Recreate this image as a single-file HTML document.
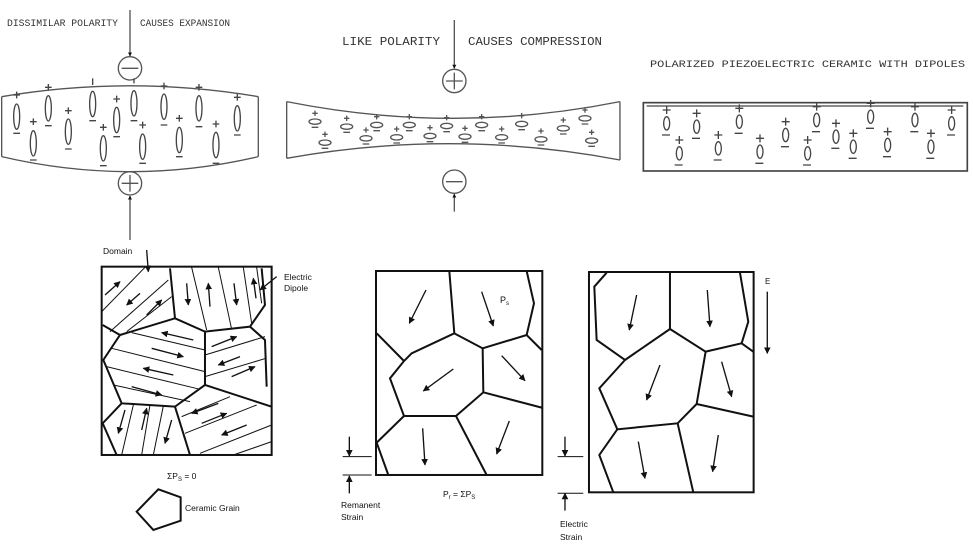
<!DOCTYPE html>
<html><head><meta charset="utf-8"><style>
html,body{margin:0;padding:0;background:#fff;}
svg{display:block;}
text{font-family:"Liberation Mono",monospace;fill:#333;}
.s{font-family:"Liberation Sans",sans-serif;fill:#111;}
</style></head><body>
<svg width="973" height="549" viewBox="0 0 973 549" xmlns="http://www.w3.org/2000/svg">
<defs>
<marker id="a" viewBox="0 0 10 10" refX="9" refY="5" markerWidth="5" markerHeight="5" orient="auto"><path d="M0,0L10,5L0,10z" fill="#111"/></marker>
<marker id="b" viewBox="0 0 10 10" refX="9" refY="5" markerWidth="3" markerHeight="3" orient="auto"><path d="M0,0L10,5L0,10z" fill="#111"/></marker>
</defs>

<!-- Top left: expansion -->
<g transform="scale(0.3333)" fill="none" stroke="#555" stroke-width="4">
<path d="M5,290 Q390,225 775,290"/>
<path d="M5,470 Q390,560 775,470"/>
<line x1="5" y1="290" x2="5" y2="470"/><line x1="775" y1="290" x2="775" y2="470"/>
<circle cx="390" cy="205" r="35"/><line x1="365" y1="205" x2="415" y2="205"/>
<circle cx="390" cy="550" r="35"/><line x1="390" y1="525" x2="390" y2="575"/><line x1="365" y1="550" x2="415" y2="550"/>
<line x1="390" y1="30" x2="390" y2="168" marker-end="url(#b)"/>
<line x1="390" y1="720" x2="390" y2="588" marker-end="url(#b)"/>
</g>
<g fill="none" stroke="#444" stroke-width="1.2">
<g transform="scale(0.3333)" stroke-width="4">
<ellipse cx="50" cy="350" rx="9" ry="38"/><ellipse cx="100" cy="430" rx="9" ry="38"/><ellipse cx="145" cy="325" rx="9" ry="38"/><ellipse cx="205" cy="395" rx="9" ry="38"/><ellipse cx="278" cy="312" rx="9" ry="38"/><ellipse cx="310" cy="445" rx="9" ry="38"/><ellipse cx="350" cy="360" rx="9" ry="38"/><ellipse cx="402" cy="310" rx="9" ry="38"/><ellipse cx="428" cy="440" rx="9" ry="38"/><ellipse cx="492" cy="320" rx="9" ry="38"/><ellipse cx="538" cy="420" rx="9" ry="38"/><ellipse cx="597" cy="325" rx="9" ry="38"/><ellipse cx="648" cy="435" rx="9" ry="38"/><ellipse cx="712" cy="355" rx="9" ry="38"/>
<path d="M40,285h20M50,275v20 M90,365h20M100,355v20 M135,262h20M145,252v20 M195,332h20M205,322v20 M278,235v20 M300,382h20M310,372v20 M340,297h20M350,287v20 M402,235v15 M418,375h20M428,365v20 M482,258h20M492,248v20 M528,355h20M538,345v20 M587,262h20M597,252v20 M638,372h20M648,362v20 M702,292h20M712,282v20"/>
<path d="M40,400h20 M90,480h20 M135,377h20 M195,447h20 M268,362h20 M300,497h20 M340,410h20 M392,362h20 M418,490h20 M482,375h20 M528,470h20 M587,380h20 M638,490h20 M702,405h20"/>
</g>
</g>
<text x="7" y="26" font-size="9.7" textLength="111" lengthAdjust="spacingAndGlyphs">DISSIMILAR POLARITY</text>
<text x="140" y="26" font-size="9.7" textLength="90" lengthAdjust="spacingAndGlyphs">CAUSES EXPANSION</text>

<!-- Top middle: compression -->
<g transform="translate(280,20) scale(0.3333)" fill="none" stroke="#555" stroke-width="4">
<path d="M20,245 Q520,345 1020,245"/>
<path d="M20,415 Q520,325 1020,420"/>
<line x1="20" y1="245" x2="20" y2="415"/><line x1="1020" y1="245" x2="1020" y2="420"/>
<circle cx="523" cy="183" r="35"/><line x1="498" y1="183" x2="548" y2="183"/><line x1="523" y1="158" x2="523" y2="208"/>
<circle cx="523" cy="485" r="35"/><line x1="498" y1="485" x2="548" y2="485"/>
<line x1="523" y1="0" x2="523" y2="145" marker-end="url(#b)"/>
<line x1="523" y1="575" x2="523" y2="522" marker-end="url(#b)"/>
<g stroke-width="4">
<ellipse cx="105" cy="305" rx="18" ry="8"/><ellipse cx="135" cy="368" rx="18" ry="8"/><ellipse cx="200" cy="320" rx="18" ry="8"/><ellipse cx="258" cy="355" rx="18" ry="8"/><ellipse cx="290" cy="315" rx="18" ry="8"/><ellipse cx="350" cy="352" rx="18" ry="8"/><ellipse cx="388" cy="315" rx="18" ry="8"/><ellipse cx="450" cy="348" rx="18" ry="8"/><ellipse cx="500" cy="318" rx="18" ry="8"/><ellipse cx="555" cy="350" rx="18" ry="8"/><ellipse cx="605" cy="315" rx="18" ry="8"/><ellipse cx="665" cy="352" rx="18" ry="8"/><ellipse cx="725" cy="312" rx="18" ry="8"/><ellipse cx="783" cy="358" rx="18" ry="8"/><ellipse cx="850" cy="325" rx="18" ry="8"/><ellipse cx="915" cy="295" rx="18" ry="8"/><ellipse cx="935" cy="362" rx="18" ry="8"/>
<path d="M97,280h16M105,272v16 M127,343h16M135,335v16 M192,295h16M200,287v16 M250,330h16M258,322v16 M282,290h16M290,282v16 M342,327h16M350,319v16 M380,290h16M388,282v16 M442,323h16M450,315v16 M492,293h16M500,285v16 M547,325h16M555,317v16 M597,290h16M605,282v16 M657,327h16M665,319v16 M717,287h16M725,279v16 M775,333h16M783,325v16 M842,300h16M850,292v16 M907,270h16M915,262v16 M927,337h16M935,329v16"/>
<path d="M95,322h20 M125,385h20 M190,337h20 M248,372h20 M280,332h20 M340,369h20 M378,332h20 M440,365h20 M490,335h20 M545,367h20 M595,332h20 M655,369h20 M715,329h20 M773,375h20 M840,342h20 M905,312h20 M925,379h20"/>
</g>
</g>
<text x="342" y="45" font-size="11.5" textLength="98" lengthAdjust="spacingAndGlyphs">LIKE POLARITY</text>
<text x="468" y="45" font-size="11.5" textLength="134" lengthAdjust="spacingAndGlyphs">CAUSES COMPRESSION</text>

<!-- Top right: polarized -->
<text x="650" y="67" font-size="10.5" textLength="315" lengthAdjust="spacingAndGlyphs">POLARIZED PIEZOELECTRIC CERAMIC WITH DIPOLES</text>
<g transform="translate(640,50) scale(0.3333)" fill="none" stroke="#444" stroke-width="4">
<rect x="10" y="158" width="972" height="205" stroke-width="5"/>
<line x1="20" y1="168" x2="970" y2="168"/>
<ellipse cx="80" cy="220" rx="9" ry="20"/><ellipse cx="118" cy="310" rx="9" ry="20"/><ellipse cx="170" cy="230" rx="9" ry="20"/><ellipse cx="235" cy="295" rx="9" ry="20"/><ellipse cx="298" cy="215" rx="9" ry="20"/><ellipse cx="360" cy="305" rx="9" ry="20"/><ellipse cx="437" cy="255" rx="9" ry="20"/><ellipse cx="503" cy="310" rx="9" ry="20"/><ellipse cx="530" cy="210" rx="9" ry="20"/><ellipse cx="588" cy="260" rx="9" ry="20"/><ellipse cx="640" cy="290" rx="9" ry="20"/><ellipse cx="692" cy="200" rx="9" ry="20"/><ellipse cx="743" cy="285" rx="9" ry="20"/><ellipse cx="825" cy="210" rx="9" ry="20"/><ellipse cx="873" cy="290" rx="9" ry="20"/><ellipse cx="935" cy="220" rx="9" ry="20"/>
<path d="M68,180h24M80,168v24 M106,270h24M118,258v24 M158,190h24M170,178v24 M223,255h24M235,243v24 M286,175h24M298,163v24 M348,265h24M360,253v24 M425,215h24M437,203v24 M491,270h24M503,258v24 M518,170h24M530,158v24 M576,220h24M588,208v24 M628,250h24M640,238v24 M680,160h24M692,150v22 M731,245h24M743,233v24 M813,170h24M825,158v24 M861,250h24M873,238v24 M923,180h24M935,168v24"/>
<path d="M66,255h24 M104,345h24 M156,265h24 M221,330h24 M284,250h24 M346,340h24 M423,290h24 M489,345h24 M516,245h24 M574,295h24 M626,325h24 M678,235h24 M729,320h24 M811,245h24 M859,325h24 M921,255h24"/>
</g>

<!-- Bottom left box -->
<g transform="translate(90,240) scale(0.3333)" fill="none" stroke="#111">
<rect x="35" y="80" width="510" height="565" stroke-width="6"/>
<g stroke-width="6">
<polyline points="240,85 255,235 90,285 38,255"/>
<polyline points="255,235 345,275 480,260 525,195 515,85"/>
<polyline points="90,285 40,360 95,490 255,500 345,435 345,275"/>
<polyline points="345,435 545,500"/>
<polyline points="480,260 525,300 530,440"/>
<polyline points="95,490 38,550 80,645"/>
<polyline points="255,500 300,645"/>
</g>
<g stroke-width="3">
<line x1="35" y1="215" x2="165" y2="82"/><line x1="60" y1="275" x2="235" y2="120"/><line x1="110" y1="275" x2="245" y2="170"/>
<line x1="305" y1="82" x2="350" y2="270"/><line x1="385" y1="82" x2="425" y2="268"/><line x1="460" y1="82" x2="485" y2="250"/><line x1="500" y1="82" x2="515" y2="190"/>
<line x1="125" y1="278" x2="345" y2="330"/><line x1="65" y1="325" x2="345" y2="395"/><line x1="50" y1="380" x2="330" y2="448"/><line x1="70" y1="435" x2="300" y2="485"/>
<line x1="345" y1="345" x2="525" y2="290"/><line x1="345" y1="410" x2="528" y2="355"/>
<line x1="130" y1="495" x2="95" y2="645"/><line x1="180" y1="495" x2="155" y2="645"/><line x1="220" y1="498" x2="190" y2="645"/>
<line x1="275" y1="530" x2="420" y2="470"/><line x1="285" y1="580" x2="500" y2="495"/><line x1="330" y1="640" x2="545" y2="555"/><line x1="430" y1="645" x2="545" y2="605"/>
</g>
<g stroke-width="4" marker-end="url(#a)">
<line x1="45" y1="165" x2="90" y2="125"/><line x1="150" y1="160" x2="110" y2="195"/><line x1="170" y1="225" x2="215" y2="180"/>
<line x1="290" y1="130" x2="295" y2="195"/><line x1="360" y1="200" x2="355" y2="130"/><line x1="432" y1="130" x2="440" y2="195"/><line x1="498" y1="175" x2="490" y2="115"/>
<line x1="310" y1="300" x2="215" y2="278"/><line x1="185" y1="325" x2="280" y2="350"/><line x1="250" y1="405" x2="160" y2="385"/><line x1="125" y1="440" x2="215" y2="465"/>
<line x1="365" y1="320" x2="440" y2="290"/><line x1="450" y1="350" x2="385" y2="375"/><line x1="425" y1="410" x2="495" y2="380"/>
<line x1="105" y1="510" x2="85" y2="580"/><line x1="155" y1="570" x2="170" y2="505"/><line x1="245" y1="540" x2="225" y2="610"/>
<line x1="385" y1="490" x2="305" y2="520"/><line x1="335" y1="550" x2="410" y2="520"/><line x1="470" y1="555" x2="395" y2="585"/>
<line x1="170" y1="30" x2="175" y2="95"/><line x1="560" y1="110" x2="510" y2="150"/>
</g>
<polygon points="140,815 205,748 272,772 272,842 190,870" stroke-width="6"/>
</g>
<text class="s" x="103" y="254" font-size="8.5">Domain</text>
<text class="s" x="284" y="280" font-size="8.5">Electric</text>
<text class="s" x="284" y="291" font-size="8.5">Dipole</text>
<text class="s" x="167" y="479" font-size="8.5">ΣP<tspan font-size="6" dy="2">S</tspan><tspan dy="-2"> = 0</tspan></text>
<text class="s" x="185" y="511" font-size="8.5">Ceramic Grain</text>

<!-- Bottom middle box -->
<g transform="translate(330,260) scale(0.3333)" fill="none" stroke="#111" stroke-width="6">
<rect x="138" y="33" width="499" height="612"/>
<polyline points="358,33 373,220"/>
<polyline points="373,220 458,265 590,225 635,270"/>
<polyline points="590,225 612,130 590,33"/>
<polyline points="140,220 222,303"/>
<polyline points="373,220 245,280 222,303 180,355 222,468 378,468 460,397 458,265"/>
<polyline points="460,397 635,443"/>
<polyline points="378,468 470,645"/>
<polyline points="222,468 140,548 175,645"/>
<g stroke-width="4" marker-end="url(#a)">
<line x1="288" y1="90" x2="238" y2="190"/><line x1="455" y1="95" x2="490" y2="198"/><line x1="515" y1="287" x2="585" y2="362"/><line x1="370" y1="327" x2="280" y2="393"/><line x1="278" y1="505" x2="285" y2="615"/><line x1="538" y1="483" x2="500" y2="582"/>
<line x1="58" y1="530" x2="58" y2="588"/><line x1="58" y1="700" x2="58" y2="648"/>
</g>
<line x1="38" y1="590" x2="125" y2="590" stroke-width="3"/><line x1="38" y1="645" x2="125" y2="645" stroke-width="3"/>
</g>
<text class="s" x="500" y="303" font-size="9">P<tspan font-size="6" dy="2">s</tspan></text>
<text class="s" x="341" y="508" font-size="8.5">Remanent</text>
<text class="s" x="341" y="520" font-size="8.5">Strain</text>
<text class="s" x="443" y="497" font-size="8.5">P<tspan font-size="6" dy="2">r</tspan><tspan dy="-2"> = ΣP</tspan><tspan font-size="6" dy="2">S</tspan></text>

<!-- Bottom right box -->
<g transform="translate(330,260) scale(0.3333)" fill="none" stroke="#111" stroke-width="6">
<rect x="777" y="36" width="494" height="661"/>
<polyline points="830,38 793,80 800,240 885,300"/>
<polyline points="1020,38 1020,207"/>
<polyline points="885,300 1020,207 1127,275 1235,250 1270,275"/>
<polyline points="1235,250 1255,185 1230,38"/>
<polyline points="885,300 808,385 862,508 1043,490 1100,432 1127,275"/>
<polyline points="1100,432 1270,470"/>
<polyline points="1043,490 1090,697"/>
<polyline points="862,508 808,585 850,697"/>
<g stroke-width="4" marker-end="url(#a)">
<line x1="920" y1="105" x2="898" y2="210"/><line x1="1132" y1="90" x2="1140" y2="200"/><line x1="990" y1="315" x2="950" y2="420"/><line x1="1175" y1="305" x2="1205" y2="410"/><line x1="925" y1="545" x2="945" y2="655"/><line x1="1165" y1="525" x2="1148" y2="635"/>
<line x1="1312" y1="95" x2="1312" y2="280"/>
<line x1="705" y1="530" x2="705" y2="588"/><line x1="705" y1="752" x2="705" y2="700"/>
</g>
<line x1="683" y1="590" x2="760" y2="590" stroke-width="3"/><line x1="683" y1="700" x2="760" y2="700" stroke-width="3"/>
</g>
<text class="s" x="765" y="284" font-size="8">E</text>
<text class="s" x="560" y="527" font-size="8.5">Electric</text>
<text class="s" x="560" y="540" font-size="8.5">Strain</text>
</svg>
</body></html>
